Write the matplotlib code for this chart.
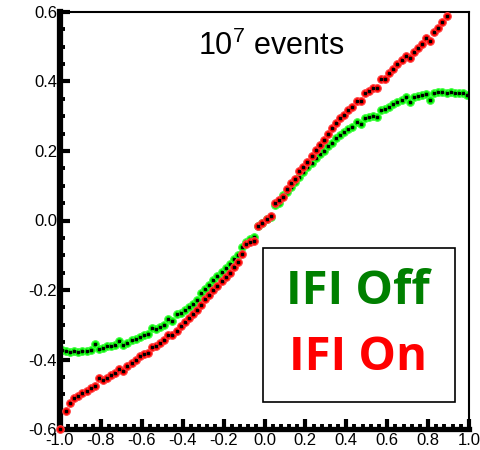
#Import libraries
import numpy as np
import matplotlib
matplotlib.use("Agg")
import matplotlib.pyplot as plt
from matplotlib.patches import Rectangle
from matplotlib.ticker import MultipleLocator

#Bin centres shared by both series (0.02 wide bins)
bins = np.round(np.arange(-0.99, 1.0, 0.02), 2)

#IFI Off (green), one value per bin
ifi_off = [-0.372, -0.375, -0.378, -0.376, -0.378, -0.375, -0.376, -0.372, -0.356, -0.370,
           -0.366, -0.362, -0.360, -0.358, -0.348, -0.358, -0.352, -0.345, -0.340, -0.334,
           -0.330, -0.326, -0.310, -0.313, -0.306, -0.300, -0.284, -0.288, -0.270, -0.266,
           -0.258, -0.250, -0.240, -0.228, -0.210, -0.196, -0.186, -0.172, -0.160, -0.148,
           -0.138, -0.126, -0.112, -0.098, -0.075, -0.062, -0.054, -0.048, -0.016, -0.006,
           0.003, 0.011, 0.044, 0.050, 0.072, 0.082, 0.095, 0.110, 0.124, 0.140,
           0.155, 0.165, 0.180, 0.190, 0.200, 0.213, 0.222, 0.236, 0.247, 0.256,
           0.262, 0.268, 0.283, 0.278, 0.295, 0.297, 0.300, 0.297, 0.318, 0.320,
           0.326, 0.334, 0.340, 0.346, 0.355, 0.340, 0.355, 0.357, 0.362, 0.365,
           0.346, 0.366, 0.369, 0.370, 0.368, 0.370, 0.368, 0.366, 0.366, 0.362]

#IFI On (red), first point sits on the corner, stops at x = 0.89
on_x = np.concatenate([[-1.0], bins[1:95]])
ifi_on = [-0.600, -0.548, -0.525, -0.512, -0.505, -0.497, -0.490, -0.483, -0.476, -0.452,
          -0.460, -0.452, -0.444, -0.438, -0.428, -0.432, -0.420, -0.410, -0.400, -0.390,
          -0.384, -0.380, -0.363, -0.360, -0.353, -0.345, -0.330, -0.330, -0.318, -0.305,
          -0.292, -0.282, -0.268, -0.258, -0.244, -0.226, -0.214, -0.200, -0.188, -0.174,
          -0.164, -0.150, -0.134, -0.118, -0.095, -0.068, -0.063, -0.058, -0.015, -0.006,
          0.003, 0.012, 0.050, 0.060, 0.068, 0.090, 0.107, 0.120, 0.142, 0.155,
          0.167, 0.185, 0.202, 0.218, 0.232, 0.250, 0.266, 0.280, 0.294, 0.305,
          0.317, 0.326, 0.343, 0.343, 0.367, 0.372, 0.380, 0.381, 0.406, 0.408,
          0.424, 0.436, 0.450, 0.462, 0.472, 0.467, 0.485, 0.497, 0.507, 0.525,
          0.516, 0.543, 0.555, 0.572, 0.588]

plt.rcParams['font.family'] = ['Liberation Sans', 'DejaVu Sans']

fig = plt.figure(figsize=(4.81, 4.50), dpi=100)
ax = fig.add_axes([60/481, 1 - 429/450, 409/481, 417/450])

#markers: coloured disc with a small black dot in the middle
ax.plot(bins, ifi_off, ls='none', marker='o', ms=5.5, mfc='#00ee00', mec='#44ff44', mew=0.8)
ax.plot(bins, ifi_off, ls='none', marker='s', ms=1.6, color='black')
ax.plot(on_x, ifi_on, ls='none', marker='o', ms=5.5, mfc='#ff0000', mec='#ff4444', mew=0.8,
        clip_on=False, zorder=4)
ax.plot(on_x, ifi_on, ls='none', marker='s', ms=1.6, color='black', clip_on=False, zorder=4)

ax.set_xlim(-1.0, 1.0)
ax.set_ylim(-0.6, 0.6)

ax.xaxis.set_major_locator(MultipleLocator(0.2))
ax.xaxis.set_minor_locator(MultipleLocator(0.04))
ax.yaxis.set_major_locator(MultipleLocator(0.2))
ax.yaxis.set_minor_locator(MultipleLocator(0.05))
ax.xaxis.set_major_formatter(lambda v, p: f"{v:.1f}".replace("-0.0", "0.0"))
ax.yaxis.set_major_formatter(lambda v, p: f"{v:.1f}".replace("-0.0", "0.0"))

ax.tick_params(which='both', direction='in', top=False, right=False, labelsize=12, colors='black')
ax.tick_params(which='major', length=7, width=3)
ax.tick_params(which='minor', length=3.5, width=2.8)
ax.tick_params(axis='y', pad=2)
ax.tick_params(axis='x', pad=3)

ax.spines['left'].set_linewidth(4.5)
ax.spines['bottom'].set_linewidth(3.8)
ax.spines['top'].set_linewidth(1.5)
ax.spines['right'].set_linewidth(1.5)

ax.text(0.03, 0.5, r"$\mathregular{10^7}$ events", fontsize=22, ha='center', va='center')

#legend box drawn by hand
ax.add_patch(Rectangle(((263-60)/409, (429-402)/417), (455-263)/409, (402-248)/417,
                       transform=ax.transAxes, fill=False, lw=1.2, ec='black', zorder=5))
ax.text((358-60)/409, (429-292)/417, "IFI Off", transform=ax.transAxes, color='#008000',
        fontsize=34, fontweight='bold', family='Open Sans', ha='center', va='center')
ax.text((289-60)/409, (429-358)/417, "IFI On", transform=ax.transAxes, color='#ff0000',
        fontsize=34, fontweight='bold', family='Open Sans', ha='left', va='center')

fig.savefig("out.png", dpi=100)
